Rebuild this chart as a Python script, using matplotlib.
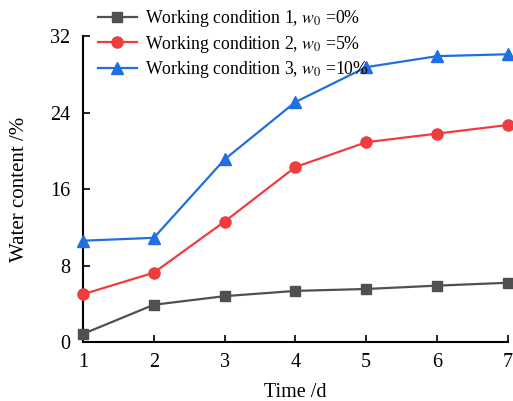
import matplotlib
matplotlib.use("Agg")
import matplotlib.pyplot as plt

plt.rcParams['font.family'] = ['Liberation Serif', 'DejaVu Serif']
plt.rcParams['mathtext.fontset'] = 'stix'

days = [1, 2, 3, 4, 5, 6, 7]
cond1 = [0.85, 3.9, 4.8, 5.35, 5.55, 5.9, 6.2]
cond2 = [5.0, 7.25, 12.6, 18.3, 20.9, 21.8, 22.7]
cond3 = [10.6, 10.9, 19.1, 25.1, 28.75, 29.9, 30.1]
labels = ["Working condition 1, $w_{\\mathrm{0}}$ =0%",
          "Working condition 2, $w_{\\mathrm{0}}$ =5%",
          "Working condition 3, $w_{\\mathrm{0}}$ =10%"]
yticks = [0, 8, 16, 24, 32]

fig = plt.figure(figsize=(5.13, 4.01), dpi=100)
ax = fig.add_axes([0.1618, 0.147, 0.828, 0.763])

ax.plot(days, cond1, color='#505050', marker='s', markersize=7, lw=1.6, label=labels[0], clip_on=False, zorder=3)
ax.plot(days, cond2, color='#f03c3c', marker='o', markersize=8, lw=1.6, label=labels[1], clip_on=False, zorder=3)
ax.plot(days, cond3, color='#1f6fe0', marker='^', markersize=8, lw=1.6, label=labels[2], clip_on=False, zorder=3)

ax.set_xlim(1, 7)
ax.set_ylim(0, 32)
ax.set_xticks(days)
ax.set_yticks(yticks)
ax.tick_params(direction='in', labelsize=14.5, width=1.2, length=5)
ax.tick_params(axis='x', pad=8)
ax.tick_params(axis='y', pad=9)
for s in ['top', 'right']:
    ax.spines[s].set_visible(False)
for s in ['left', 'bottom']:
    ax.spines[s].set_linewidth(1.5)

ax.set_xlabel('Time /d', fontsize=14.5, labelpad=8)
ax.set_ylabel('Water content /%', fontsize=15, labelpad=15)

leg = ax.legend(loc='upper left', bbox_to_anchor=(0.035, 1.091), frameon=False, fontsize=12.8,
                handlelength=2.2, handletextpad=0.45, labelspacing=0.25, borderaxespad=0, borderpad=0)

fig.savefig('out.png', dpi=100)
